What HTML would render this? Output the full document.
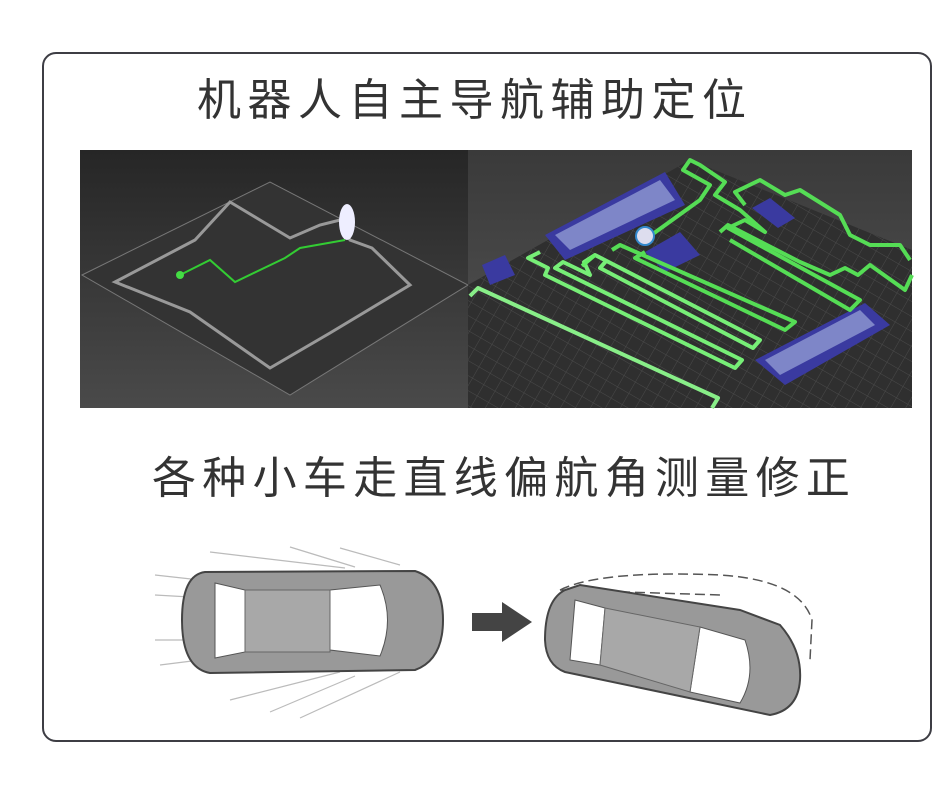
<!DOCTYPE html>
<html><head><meta charset="utf-8"><style>
html,body{margin:0;padding:0;background:#fff;width:951px;height:789px;overflow:hidden}
.frame{position:absolute;left:42px;top:52px;width:886px;height:686px;border:2.5px solid #3d3d44;border-radius:14px}
.t{position:absolute;font-family:"Liberation Sans","Noto Sans CJK SC",sans-serif;color:#333;white-space:nowrap}
</style></head><body>
<div class="frame"></div>
<div class="t" style="left:197px;top:64px;font-size:44px;letter-spacing:6.5px">机器人自主导航辅助定位</div>
<div class="t" style="left:152px;top:442px;font-size:44px;letter-spacing:6.3px">各种小车走直线偏航角测量修正</div>
<svg style="position:absolute;left:0;top:0" width="951" height="789">
<defs>
<linearGradient id="gl" x1="0" y1="0" x2="0" y2="1"><stop offset="0" stop-color="#262626"/><stop offset="1" stop-color="#4a4a4a"/></linearGradient>
<linearGradient id="gr" x1="0" y1="0" x2="0" y2="1"><stop offset="0" stop-color="#3a3a3a"/><stop offset="1" stop-color="#555"/></linearGradient>
<pattern id="grid" width="13" height="13" patternUnits="userSpaceOnUse" patternTransform="rotate(30)"><path d="M13 0H0V13" fill="none" stroke="#4a4a4a" stroke-width="1"/></pattern>
</defs>
<rect x="80" y="150" width="388" height="258" fill="url(#gl)"/>
<polygon points="82,275 270,182 468,285 290,395" fill="#333" stroke="#777" stroke-width="1"/>
<polygon points="115,282 195,240 230,202 260,220 290,238 320,225 340,220 350,240 372,248 410,285 330,333 270,368 190,312" fill="none" stroke="#999" stroke-width="3"/>
<polyline points="180,275 210,260 235,282 285,258 300,248 345,240" fill="none" stroke="#3c3" stroke-width="2"/>
<circle cx="180" cy="275" r="4" fill="#4d4"/>
<ellipse cx="347" cy="222" rx="8" ry="18" fill="#eef"/>
<rect x="468" y="150" width="444" height="258" fill="url(#gr)"/>
<polygon points="468,285 690,160 912,250 912,408 468,408" fill="#2f2f2f"/>
<polygon points="468,285 690,160 912,250 912,408 468,408" fill="url(#grid)"/>
<g fill="#3a3aa0"><polygon points="545,235 665,172 685,205 565,260"/><polygon points="752,208 770,198 795,218 778,228"/><polygon points="645,252 680,232 700,255 665,272"/><polygon points="755,360 865,303 890,325 785,385"/><polygon points="482,265 505,255 515,275 490,285"/></g>
<g fill="#7e86c8"><polygon points="555,235 660,180 675,200 570,250"/><polygon points="765,360 860,310 875,325 780,375"/></g>
<g fill="none" stroke-width="4" stroke-linejoin="round">
<polyline stroke="#8e8" points="470,296 478,288 718,398 712,408"/>
<polyline stroke="#7e7" points="540,252 528,258 548,268 545,275 735,368 742,360 555,268 563,262 590,275 584,262 595,255 760,340 753,348 600,268 607,260"/>
<polyline stroke="#6e6" points="582,266 595,255"/>
<polyline stroke="#5d5" points="612,250 620,245 795,322 785,330 635,258 645,252"/>
<polyline stroke="#5d5" points="650,236 700,200 710,185 683,170 690,160 700,165 725,182 715,195 740,210 765,232 745,220 728,228 860,300 850,310 730,240"/>
<polyline stroke="#5d5" points="720,232 728,225 800,262 830,275 845,268 858,275 870,265 905,290 912,275"/>
<polyline stroke="#5d5" points="745,205 735,192 760,180 785,195 800,190 840,215 850,235 870,245 900,245 910,260"/>
</g>
<circle cx="645" cy="236" r="9" fill="#dde" stroke="#38c" stroke-width="2"/>
<g stroke="#bbb" stroke-width="1.2">
<line x1="155" y1="575" x2="200" y2="580"/><line x1="155" y1="595" x2="190" y2="597"/><line x1="155" y1="640" x2="190" y2="640"/><line x1="160" y1="665" x2="200" y2="660"/>
<line x1="210" y1="552" x2="345" y2="568"/><line x1="290" y1="547" x2="355" y2="567"/><line x1="340" y1="548" x2="400" y2="565"/>
<line x1="230" y1="700" x2="340" y2="672"/><line x1="270" y1="712" x2="355" y2="676"/><line x1="300" y1="718" x2="400" y2="672"/>
</g>
<path d="M205 572 Q182 575 182 620 Q182 668 210 673 L415 670 Q443 660 443 620 Q443 580 415 571 Z" fill="#999" stroke="#444" stroke-width="2"/>
<path d="M215 583 L245 590 L245 652 L215 658 Z M330 590 L380 585 Q395 620 380 656 L330 650 Z" fill="#fff" stroke="#555"/>
<rect x="245" y="590" width="85" height="62" fill="#a8a8a8" stroke="#666"/>
<polygon points="472,613 502,613 502,602 532,622 502,642 502,631 472,631" fill="#444"/>
<path d="M560 590 Q600 570 720 575 Q800 580 812 620 L810 660 M560 590 L720 595" fill="none" stroke="#555" stroke-dasharray="10 5" stroke-width="1.5"/>
<path d="M565 590 Q545 600 545 640 Q546 665 565 672 L770 715 Q798 710 800 680 Q802 650 780 625 L740 610 L580 585 Z" fill="#999" stroke="#444" stroke-width="2"/>
<path d="M575 600 L605 608 L600 665 L570 660 Z M700 627 L745 640 Q757 675 740 703 L690 692 Z" fill="#fff" stroke="#555"/>
<polygon points="605,608 700,627 690,692 600,665" fill="#a8a8a8" stroke="#666"/>
</svg>
</body></html>
